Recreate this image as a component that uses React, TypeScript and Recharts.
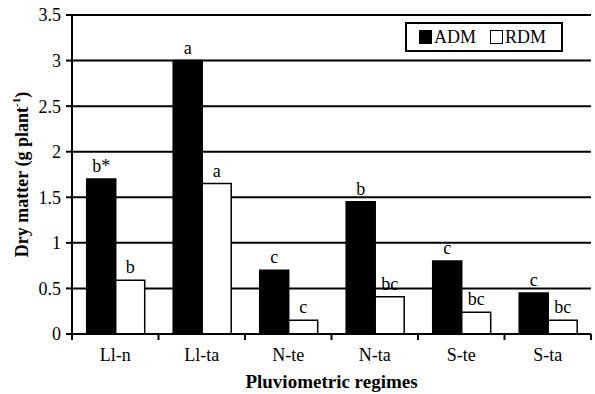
import React from "react";
import {
  Bar,
  BarChart,
  CartesianGrid,
  Label,
  LabelList,
  Legend,
  XAxis,
  YAxis,
} from "recharts";

const regimes = ["Ll-n", "Ll-ta", "N-te", "N-ta", "S-te", "S-ta"];
const admValues = [1.7, 3.0, 0.7, 1.45, 0.8, 0.45];
const rdmValues = [0.59, 1.65, 0.15, 0.41, 0.24, 0.15];
const admLetters = ["b*", "a", "c", "b", "c", "c"];
const rdmLetters = ["b", "a", "c", "bc", "bc", "bc"];
const yTicks = [0, 0.5, 1, 1.5, 2, 2.5, 3, 3.5];

const data = regimes.map((regime, i) => ({
  regime,
  ADM: admValues[i],
  RDM: rdmValues[i],
  admLetter: admLetters[i],
  rdmLetter: rdmLetters[i],
}));

const FONT = '"Liberation Serif", "Times New Roman", serif';

const formatTick = (v: number) => String(v);

function RegimeTick(props: any) {
  const { x, y, payload, index, visibleTicksCount } = props;
  const half = payload?.offset ?? 43;
  const axisY = y - 14;
  return (
    <g>
      <line x1={x - half} y1={axisY} x2={x - half} y2={axisY + 6} stroke="#000" strokeWidth={2} />
      {index === visibleTicksCount - 1 && (
        <line x1={x + half} y1={axisY} x2={x + half} y2={axisY + 6} stroke="#000" strokeWidth={2} />
      )}
      <text x={x} y={axisY + 27} textAnchor="middle" fontFamily={FONT} fontSize={18} fill="#000">
        {payload.value}
      </text>
    </g>
  );
}

function LegendBox() {
  const swatch = (fill: string) => (
    <span
      style={{
        display: "inline-block",
        boxSizing: "border-box",
        width: 13,
        height: 14,
        background: fill,
        border: "1px solid #000",
        marginRight: 2,
      }}
    />
  );
  return (
    <div
      style={{
        boxSizing: "border-box",
        width: 158,
        height: 30,
        border: "2px solid #000",
        background: "#fff",
        display: "flex",
        alignItems: "center",
        paddingLeft: 12,
        fontFamily: FONT,
        fontSize: 18,
        lineHeight: 1,
      }}
    >
      {swatch("#000")}
      <span style={{ marginRight: 14 }}>ADM</span>
      {swatch("#fff")}
      <span>RDM</span>
    </div>
  );
}

export default function App() {
  return (
    <div style={{ width: 595, height: 394, background: "#fff" }}>
      <style>{"body{margin:0}"}</style>
      <BarChart
        width={595}
        height={394}
        data={data}
        margin={{ top: 15, right: 4, left: 0, bottom: 0 }}
        barCategoryGap="17%"
        barGap={0}
      >
        <CartesianGrid vertical={false} stroke="#000" strokeWidth={2} />
        <XAxis
          dataKey="regime"
          height={60}
          axisLine={{ stroke: "#000", strokeWidth: 2 }}
          tickLine={false}
          tickSize={6}
          tickMargin={8}
          tick={<RegimeTick />}
          interval={0}
        >
          <Label
            content={(p: any) => {
              const vb = p.viewBox;
              return (
                <text
                  x={vb.x + vb.width / 2}
                  y={388}
                  textAnchor="middle"
                  fontFamily={FONT}
                  fontWeight="bold"
                  fontSize={19}
                  fill="#000"
                >
                  Pluviometric regimes
                </text>
              );
            }}
          />
        </XAxis>
        <YAxis
          width={72}
          domain={[0, 3.5]}
          ticks={yTicks}
          tickFormatter={formatTick}
          axisLine={{ stroke: "#000", strokeWidth: 2 }}
          tickLine={{ stroke: "#000", strokeWidth: 2 }}
          tickSize={6}
          tickMargin={5}
          tick={{ fill: "#000", fontFamily: FONT, fontSize: 18 }}
        >
          <Label
            content={(p: any) => {
              const vb = p.viewBox;
              const cx = 22;
              const cy = vb.y + vb.height / 2;
              return (
                <text
                  x={cx}
                  y={cy}
                  transform={`rotate(-90, ${cx}, ${cy})`}
                  textAnchor="middle"
                  dominantBaseline="central"
                  fontFamily={FONT}
                  fontWeight="bold"
                  fontSize={18}
                  fill="#000"
                >
                  Dry matter (g plant
                  <tspan fontSize={11} dy={-6}>-1</tspan>
                  <tspan dy={6}>)</tspan>
                </text>
              );
            }}
          />
        </YAxis>
        <YAxis
          yAxisId="frame"
          orientation="right"
          width={0}
          domain={[0, 3.5]}
          tick={false}
          tickLine={false}
          axisLine={{ stroke: "#000", strokeWidth: 2 }}
        />
        <Legend
          layout="horizontal"
          verticalAlign="middle"
          align="center"
          wrapperStyle={{ top: 22, left: 405, width: 158 }}
          content={() => <LegendBox />}
        />
        <Bar dataKey="ADM" fill="#000" stroke="#000" strokeWidth={1.5} isAnimationActive={false}>
          <LabelList
            dataKey="admLetter"
            position="top"
            offset={7}
            fill="#000"
            fontFamily={FONT}
            fontSize={18}
          />
        </Bar>
        <Bar dataKey="RDM" fill="#fff" stroke="#000" strokeWidth={1.5} isAnimationActive={false}>
          <LabelList
            dataKey="rdmLetter"
            position="top"
            offset={7}
            fill="#000"
            fontFamily={FONT}
            fontSize={18}
          />
        </Bar>
      </BarChart>
    </div>
  );
}
